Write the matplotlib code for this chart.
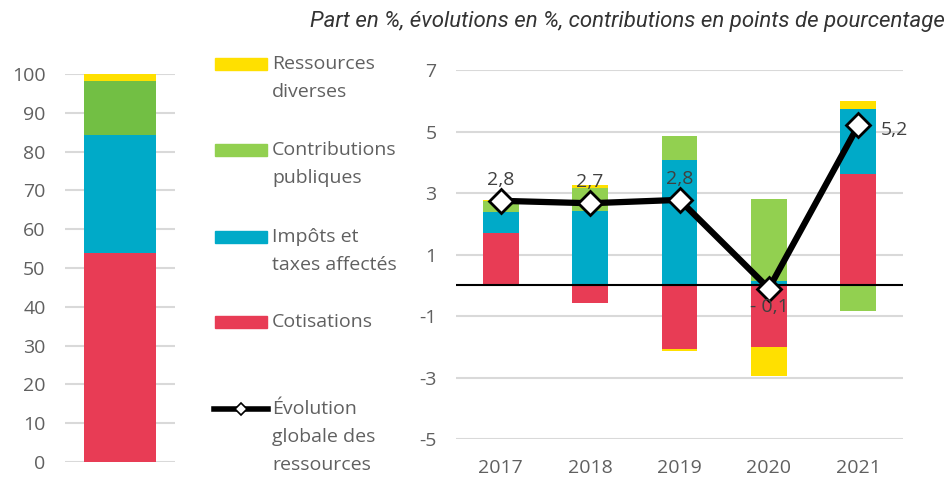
import matplotlib
matplotlib.use("Agg")
import matplotlib.pyplot as plt
import numpy as np
from matplotlib.patches import Rectangle
from matplotlib.lines import Line2D

plt.rcParams['font.family'] = ['Open Sans', 'DejaVu Sans']
plt.rcParams['axes.unicode_minus'] = False

# ---- data ----
series = ["Cotisations", "Impôts et\ntaxes affectés", "Contributions\npubliques", "Ressources\ndiverses"]
share_2021 = [53.9, 30.4, 13.9, 1.8]  # left stacked bar (part en %)

years = ["2017", "2018", "2019", "2020", "2021"]
cotisations = [1.71, -0.58, -2.07, -1.99, 3.61]
impots = [0.68, 2.42, 4.08, 0.15, 2.13]
contributions = [0.35, 0.76, 0.79, 2.65, -0.84]
ressources = [0.03, 0.07, -0.05, -0.94, 0.25]
evolution = [2.75, 2.67, 2.78, -0.1, 5.2]
evolution_labels = ["2,8", "2,7", "2,8", "- 0,1", "5,2"]

left_ticks = list(range(0, 101, 10))
right_ticks = [-5, -3, -1, 1, 3, 5, 7]

colors_left = ["#E83C55", "#00AAC8", "#72BF44", "#FFE000"]
colors_right = ["#E83C55", "#00AAC8", "#92D050", "#FFE000"]
tick_color = "#606060"
grid_color = "#D9D9D9"
FS = 14

W, H = 948, 478
fig = plt.figure(figsize=(W / 100, H / 100), dpi=100)

def frac(x0, y0, x1, y1):
    return [x0 / W, 1 - y1 / H, (x1 - x0) / W, (y1 - y0) / H]

# ---- left chart ----
axl = fig.add_axes(frac(65, 74, 175, 462))
bottom = 0
for v, c in zip(share_2021, colors_left):
    axl.bar([0], [v], bottom=bottom, width=0.655, color=c, zorder=3)
    bottom += v
axl.set_xlim(-0.5, 0.5)
axl.set_ylim(0, 100)
axl.set_yticks(left_ticks)
axl.set_xticks([])
axl.yaxis.grid(True, color=grid_color, lw=1.5, zorder=0)
for s in axl.spines.values():
    s.set_visible(False)
axl.tick_params(axis='y', length=0, pad=14, labelsize=FS, labelcolor=tick_color)

# ---- right chart ----
axr = fig.add_axes(frac(456, 70, 903, 439.3))
x = np.arange(len(years))
bw = 0.4
vals = [cotisations, impots, contributions, ressources]
pos_base = np.zeros(len(years))
neg_base = np.zeros(len(years))
for v, c in zip(vals, colors_right):
    v = np.array(v)
    b = np.where(v >= 0, pos_base, neg_base)
    axr.bar(x, v, bottom=b, width=bw, color=c, zorder=3)
    pos_base = pos_base + np.where(v >= 0, v, 0)
    neg_base = neg_base + np.where(v < 0, v, 0)
axr.axhline(0, color="black", lw=1.5, zorder=4)
axr.plot(x, evolution, color="black", lw=4.5, marker="D", ms=12.5,
         mfc="white", mec="black", mew=2, zorder=6)
offsets = [(0, 15), (0, 15), (0, 15), (0, -13), (16, -3)]
has = ["center", "center", "center", "center", "left"]
for xi, yi, lab, off, ha in zip(x, evolution, evolution_labels, offsets, has):
    axr.annotate(lab, (xi, yi), xytext=off, textcoords="offset points",
                 ha=ha, va="center", fontsize=FS, color="#404040", zorder=7)
axr.set_xlim(-0.5, len(years) - 0.5)
axr.set_ylim(-5, 7)
axr.set_yticks(right_ticks)
axr.set_xticks(x)
axr.set_xticklabels(years)
axr.yaxis.grid(True, color=grid_color, lw=1.5, zorder=0)
for s in axr.spines.values():
    s.set_visible(False)
axr.tick_params(axis='y', length=0, pad=14, labelsize=FS, labelcolor=tick_color)
axr.tick_params(axis='x', length=0, pad=14, labelsize=FS, labelcolor=tick_color)

# ---- legend (overlay) ----
axg = fig.add_axes([0, 0, 1, 1])
axg.set_xlim(0, W)
axg.set_ylim(H, 0)
axg.axis("off")
LS = 28
leg_items = [(["Ressources", "diverses"], "#FFE000", 64),
             (["Contributions", "publiques"], "#92D050", 150),
             (["Impôts et", "taxes affectés"], "#00AAC8", 237),
             (["Cotisations"], "#E83C55", 322)]
for lines, c, yc in leg_items:
    axg.add_patch(Rectangle((215, yc - 6), 52, 12, color=c))
    for i, ln in enumerate(lines):
        axg.text(272, yc + i * LS, ln, ha="left", va="center", fontsize=FS, color=tick_color)
axg.add_line(Line2D([214, 268], [409, 409], color="black", lw=4))
axg.add_line(Line2D([241], [409], marker="D", ms=6, mfc="white", mec="black", mew=1.2))
for i, ln in enumerate(["Évolution", "globale des", "ressources"]):
    axg.text(272, 409 + i * LS, ln, ha="left", va="center", fontsize=FS, color=tick_color)

fig.text(945 / W, 1 - 22 / H, "Part en %, évolutions en %, contributions en points de pourcentage",
         ha="right", va="center", fontsize=16, style="italic", color="#333333",
         family=["Roboto", "DejaVu Sans"])

fig.savefig("out.png", dpi=100)
